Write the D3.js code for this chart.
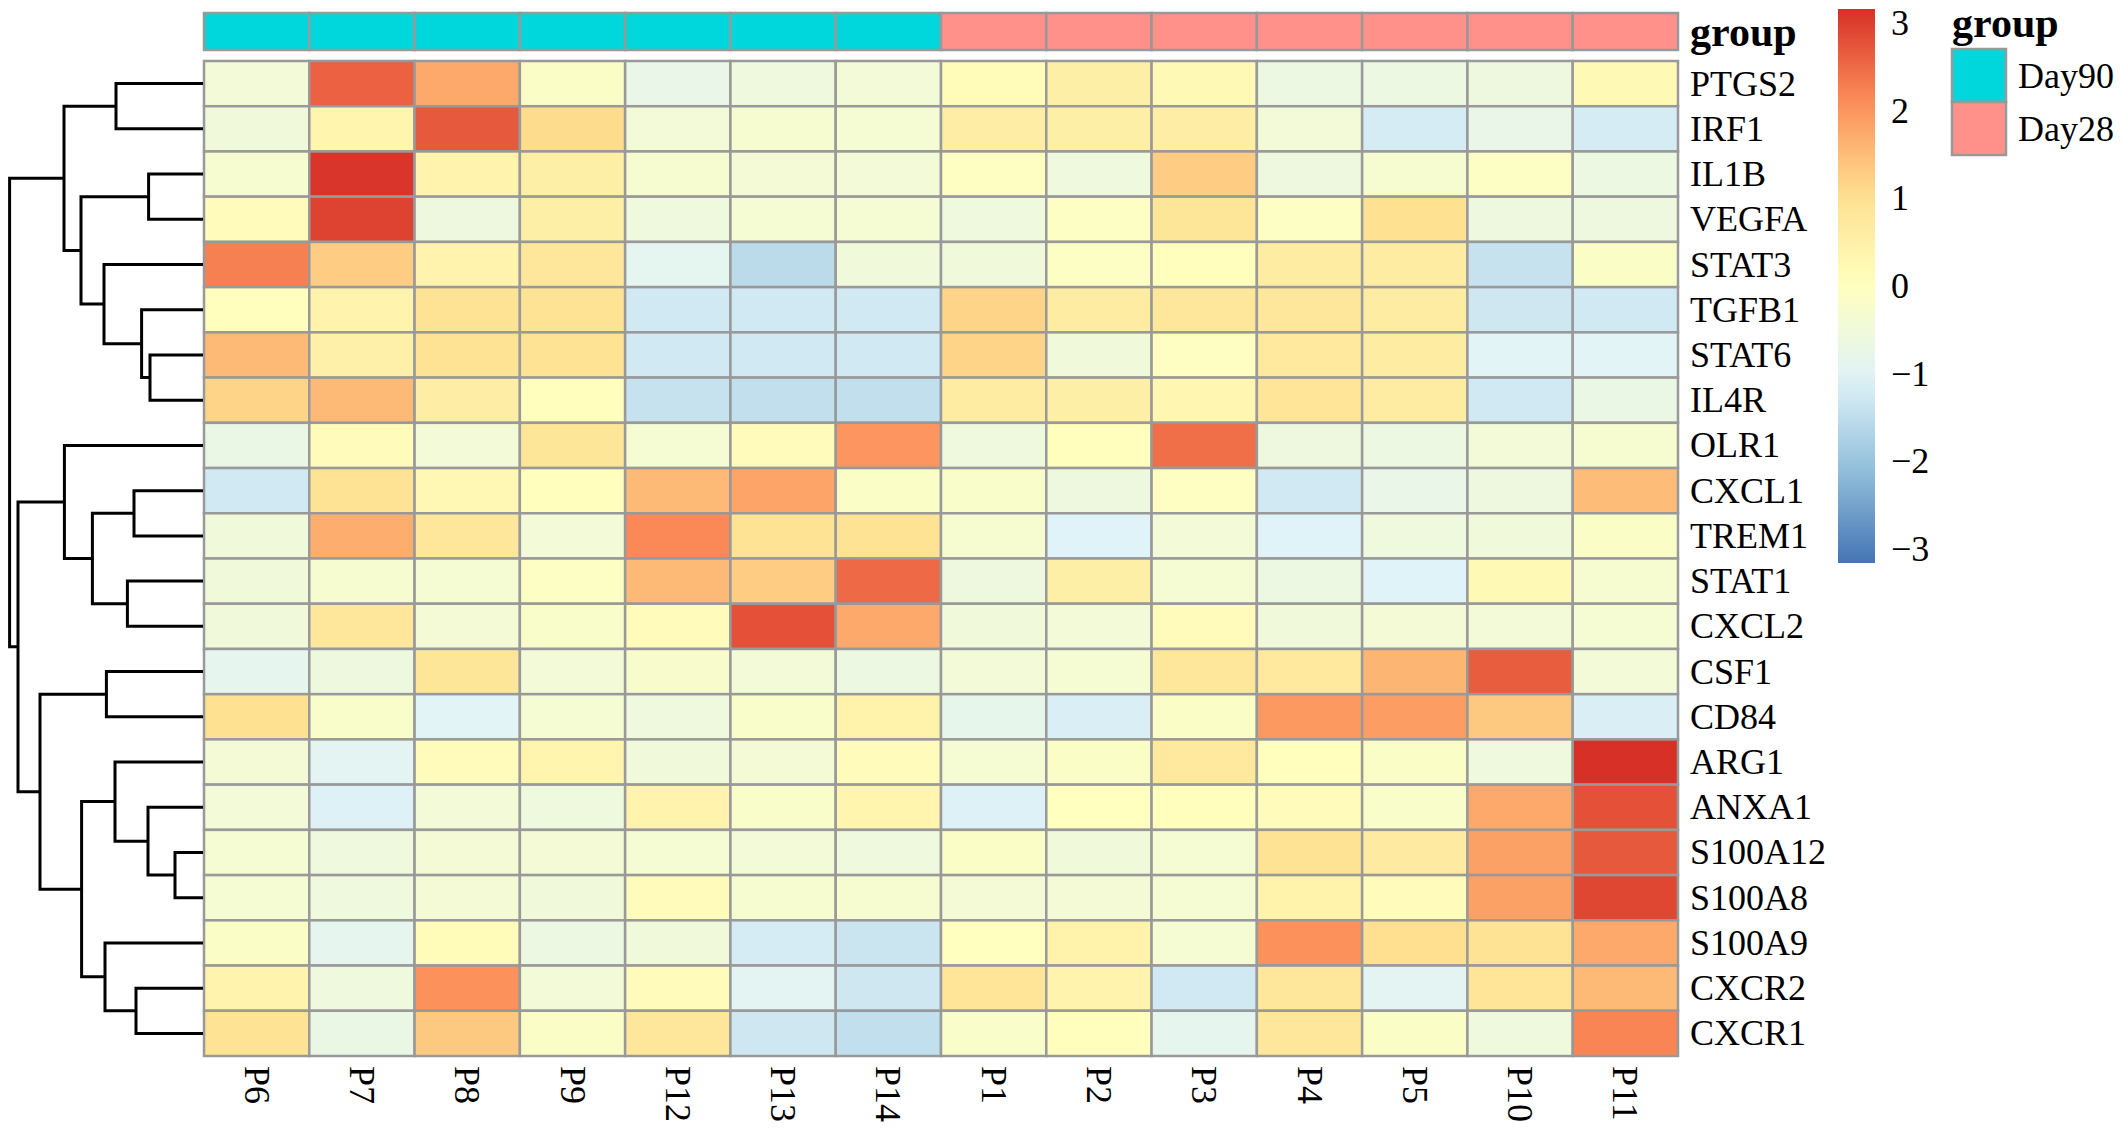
<!DOCTYPE html>
<html>
<head>
<meta charset="utf-8">
<script src="https://cdn.jsdelivr.net/npm/d3@7"></script>
<style>
body { margin: 0; background: #fff; }
text { font-family: "Liberation Serif", "Times New Roman", serif; fill: #000; }
</style>
</head>
<body>
<div id="chart"></div>
<script>
var samples = ["P6","P7","P8","P9","P12","P13","P14","P1","P2","P3","P4","P5","P10","P11"];
var groups  = ["Day90","Day90","Day90","Day90","Day90","Day90","Day90",
               "Day28","Day28","Day28","Day28","Day28","Day28","Day28"];
var groupLevels = ["Day90","Day28"];
var groupColors = ["#00D7DC","#FF918A"];

var genes = ["PTGS2","IRF1","IL1B","VEGFA","STAT3","TGFB1","STAT6","IL4R","OLR1","CXCL1",
             "TREM1","STAT1","CXCL2","CSF1","CD84","ARG1","ANXA1","S100A12","S100A8","S100A9",
             "CXCR2","CXCR1"];

// z-scores, one row per gene, columns in the order of samples
var expr = [
  [-0.45, 2.6, 1.75,-0.15,-0.75,-0.55,-0.45, 0.15, 0.55, 0.2,-0.65,-0.65,-0.6, 0.2],
  [-0.5, 0.35, 2.7, 1.1,-0.45,-0.3,-0.35, 0.6, 0.55, 0.6,-0.45,-1.2,-0.75,-1.2],
  [-0.3, 3.1, 0.4, 0.55,-0.3,-0.4,-0.45,-0.05,-0.55, 1.3,-0.6,-0.3,-0.1,-0.65],
  [ 0.1, 2.95,-0.6, 0.55,-0.55,-0.35,-0.35,-0.55,-0.1, 0.85,-0.1, 1.0,-0.6,-0.6],
  [ 2.25, 1.3, 0.4, 0.8,-0.9,-1.55,-0.5,-0.5,-0.1, 0.05, 0.65, 0.65,-1.4,-0.15],
  [ 0.05, 0.4, 0.95, 0.95,-1.25,-1.25,-1.25, 1.2, 0.65, 0.8, 0.8, 0.65,-1.3,-1.25],
  [ 1.55, 0.5, 0.95, 0.95,-1.25,-1.25,-1.25, 1.2,-0.5,-0.05, 0.75, 0.65,-1.0,-1.0],
  [ 1.2, 1.55, 0.6, 0.05,-1.4,-1.45,-1.45, 0.65, 0.55, 0.3, 0.9, 0.65,-1.25,-0.7],
  [-0.7, 0.1,-0.45, 0.85,-0.35, 0.1, 2.0,-0.55, 0.05, 2.45,-0.6,-0.65,-0.45,-0.3],
  [-1.25, 0.95, 0.25, 0.05, 1.55, 1.8,-0.15,-0.2,-0.6,-0.05,-1.25,-0.75,-0.6, 1.5],
  [-0.5, 1.7, 0.8,-0.45, 2.15, 0.95, 0.95,-0.3,-1.05,-0.45,-1.05,-0.55,-0.5,-0.15],
  [-0.5,-0.3,-0.35,-0.1, 1.55, 1.3, 2.5,-0.6, 0.55,-0.35,-0.65,-1.05, 0.2,-0.3],
  [-0.5, 0.8,-0.4,-0.2, 0.1, 2.8, 1.75,-0.5,-0.45, 0.1,-0.5,-0.4,-0.45,-0.35],
  [-0.85,-0.6, 0.85,-0.45,-0.25,-0.45,-0.65,-0.45,-0.35, 0.8, 0.75, 1.6, 2.65,-0.45],
  [ 1.0,-0.2,-1.0,-0.35,-0.55,-0.2, 0.45,-0.8,-1.15,-0.15, 1.95, 1.9, 1.35,-1.15],
  [-0.4,-0.95, 0.1, 0.35,-0.5,-0.4, 0.1,-0.35,-0.15, 0.75, 0.05,-0.15,-0.55, 3.15],
  [-0.45,-1.1,-0.45,-0.55, 0.4,-0.2, 0.35,-1.1, 0.0, 0.05, 0.1,-0.2, 1.75, 2.8],
  [-0.35,-0.55,-0.4,-0.4,-0.35,-0.45,-0.55,-0.15,-0.5,-0.35, 0.95, 0.7, 1.85, 2.7],
  [-0.35,-0.55,-0.4,-0.5, 0.1,-0.3,-0.3,-0.4,-0.4,-0.35, 0.45, 0.1, 1.85, 2.9],
  [-0.15,-0.85, 0.15,-0.65,-0.5,-1.2,-1.35, 0.0, 0.45,-0.35, 2.05, 1.05, 0.95, 1.75],
  [ 0.4,-0.55, 2.05,-0.45, 0.1,-0.95,-1.3, 0.9, 0.4,-1.25, 0.8,-0.95, 0.9, 1.55],
  [ 0.95,-0.7, 1.35,-0.15, 0.8,-1.3,-1.45,-0.2, 0.05,-0.85, 0.8,-0.15,-0.55, 2.2]
];

// row clustering: [left, right, merge height]
var rowTree = [
  [["PTGS2","IRF1",4.35],
   [["IL1B","VEGFA",2.72], ["STAT3", ["TGFB1", ["STAT6","IL4R",2.65], 3.07], 4.95], 6.1],
   6.95],
  [["OLR1", [["CXCL1","TREM1",3.45], ["STAT1","CXCL2",3.78], 5.53], 6.93],
   [["CSF1","CD84",4.83],
    [["ARG1", ["ANXA1", ["S100A12","S100A8",1.4], 2.75], 4.4],
     ["S100A9", ["CXCR2","CXCR1",3.35], 4.9], 6.07],
    8.15],
   9.25],
  9.67];

var legendTicks = [-3,-2,-1,0,1,2,3];
var paletteStops = ["#4575B4","#91BFDB","#E0F3F8","#FFFFBF","#FEE090","#FC8D59","#D73027"];
var zMax = 3.16;

var W = 2125, H = 1133;
var hm = {l: 204, r: 1678, t: 61, b: 1056};

var svg = d3.select("#chart").append("svg")
  .attr("width", W)
  .attr("height", H);

svg.append("rect").attr("width", W).attr("height", H).attr("fill", "#fff");

var x = d3.scaleBand().domain(samples).range([hm.l, hm.r]);
var y = d3.scaleBand().domain(genes).range([hm.t, hm.b]);

var color = d3.scaleLinear()
  .domain(d3.range(paletteStops.length).map(function(i) { return -zMax + i * 2 * zMax / (paletteStops.length - 1); }))
  .range(paletteStops)
  .clamp(true);

var groupColor = d3.scaleOrdinal().domain(groupLevels).range(groupColors);

// heatmap cells
var cells = [];
expr.forEach(function(row, i) {
  row.forEach(function(v, j) {
    cells.push({gene: genes[i], sample: samples[j], value: v});
  });
});

svg.append("g").selectAll("rect")
  .data(cells)
  .enter().append("rect")
  .attr("x", function(d) { return x(d.sample); })
  .attr("y", function(d) { return y(d.gene); })
  .attr("width", x.bandwidth())
  .attr("height", y.bandwidth())
  .attr("fill", function(d) { return color(d.value); })
  .attr("stroke", "#999")
  .attr("stroke-width", 2.5);

// annotation bar
var annTop = 13, annH = 37;
svg.append("g").selectAll("rect")
  .data(samples)
  .enter().append("rect")
  .attr("x", function(d) { return x(d); })
  .attr("y", annTop)
  .attr("width", x.bandwidth())
  .attr("height", annH)
  .attr("fill", function(d, i) { return groupColor(groups[i]); })
  .attr("stroke", "#999")
  .attr("stroke-width", 2.5);

svg.append("text")
  .attr("x", hm.r + 12)
  .attr("y", annTop + annH / 2)
  .attr("dominant-baseline", "central")
  .attr("font-size", 42)
  .attr("font-weight", "bold")
  .text("group");

// row labels
svg.append("g").selectAll("text")
  .data(genes)
  .enter().append("text")
  .attr("x", hm.r + 12)
  .attr("y", function(d) { return y(d) + y.bandwidth() / 2; })
  .attr("dominant-baseline", "central")
  .attr("font-size", 36)
  .text(function(d) { return d; });

// column labels, rotated
svg.append("g").selectAll("text")
  .data(samples)
  .enter().append("text")
  .attr("transform", function(d) { return "translate(" + (x(d) + x.bandwidth() / 2) + "," + (hm.b + 10) + ") rotate(90)"; })
  .attr("dominant-baseline", "central")
  .attr("font-size", 36)
  .text(function(d) { return d; });

// row dendrogram
var h = d3.scaleLinear().domain([0, rowTree[2]]).range([hm.l - 1, 9.6]);
var dendro = svg.append("g")
  .attr("fill", "none")
  .attr("stroke", "#000")
  .attr("stroke-width", 3);

function drawNode(n) {
  if (typeof n === "string") {
    return {x: h(0), y: y(n) + y.bandwidth() / 2};
  }
  var a = drawNode(n[0]), b = drawNode(n[1]), px = h(n[2]);
  dendro.append("path")
    .attr("d", "M" + a.x + "," + a.y + "H" + px + "V" + b.y + "H" + b.x);
  return {x: px, y: (a.y + b.y) / 2};
}
drawNode(rowTree);

// colour key
var key = {x: 1838, w: 37, t: 9, b: 563};
var ky = d3.scaleLinear().domain([-zMax, zMax]).range([key.b, key.t]);

var grad = svg.append("defs").append("linearGradient")
  .attr("id", "keygrad")
  .attr("x1", 0).attr("y1", 1).attr("x2", 0).attr("y2", 0);
grad.selectAll("stop")
  .data(d3.range(0, 1.0001, 0.05))
  .enter().append("stop")
  .attr("offset", function(d) { return d; })
  .attr("stop-color", function(d) { return color(-zMax + d * 2 * zMax); });

svg.append("rect")
  .attr("x", key.x)
  .attr("y", key.t)
  .attr("width", key.w)
  .attr("height", key.b - key.t)
  .attr("fill", "url(#keygrad)");

svg.append("g").selectAll("text")
  .data(legendTicks)
  .enter().append("text")
  .attr("x", key.x + key.w + 16)
  .attr("y", function(d) { return ky(d); })
  .attr("dominant-baseline", "central")
  .attr("font-size", 36)
  .text(function(d) { return String(d).replace("-", "\u2212"); });

// group legend
var lg = {x: 1952, t: 49, w: 54, h: 53};
svg.append("text")
  .attr("x", lg.x)
  .attr("y", 37)
  .attr("font-size", 42)
  .attr("font-weight", "bold")
  .text("group");

svg.append("g").selectAll("rect")
  .data(groupLevels)
  .enter().append("rect")
  .attr("x", lg.x)
  .attr("y", function(d, i) { return lg.t + i * lg.h; })
  .attr("width", lg.w)
  .attr("height", lg.h)
  .attr("fill", function(d) { return groupColor(d); })
  .attr("stroke", "#999")
  .attr("stroke-width", 2.5);

svg.append("g").selectAll("text")
  .data(groupLevels)
  .enter().append("text")
  .attr("x", lg.x + lg.w + 12)
  .attr("y", function(d, i) { return lg.t + i * lg.h + lg.h / 2; })
  .attr("dominant-baseline", "central")
  .attr("font-size", 36)
  .text(function(d) { return d; });
</script>
</body>
</html>
